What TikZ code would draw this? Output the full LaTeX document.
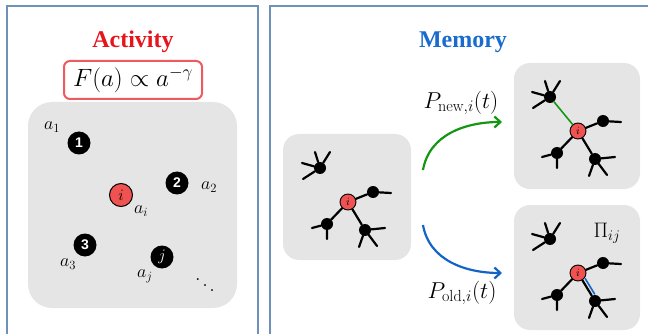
\RequirePackage{fix-cm}
\documentclass[tikz,border=0pt]{standalone}
\usepackage{fontspec}
\usetikzlibrary{arrows.meta}

\newfontfamily\titlefont{Liberation Serif}
\newfontfamily\numfont{Liberation Sans}

\definecolor{panelblue}{RGB}{110,145,185}
\definecolor{boxgray}{RGB}{230,229,230}
\definecolor{titlered}{RGB}{232,20,28}
\definecolor{lawred}{RGB}{238,90,95}
\definecolor{nodered}{RGB}{240,82,82}
\definecolor{titleblue}{RGB}{26,108,204}
\definecolor{newgreen}{RGB}{20,150,20}
\definecolor{oldblue}{RGB}{20,100,200}

\tikzset{
    panel/.style={draw=panelblue, line width=1.2pt},
    graybox/.style={fill=boxgray, rounded corners=16pt, inner sep=0pt},
    title/.style={font=\titlefont\bfseries\fontsize{24}{28}\selectfont},
    actnode/.style={circle, fill=black, text=white, minimum size=23pt, inner sep=0pt,
        font=\numfont\bfseries\fontsize{14}{14}\selectfont},
    actlabel/.style={font=\fontsize{18}{20}\selectfont},
    hub/.style={circle, fill=nodered, draw=black, line width=0.9pt, minimum size=16pt,
        inner sep=0pt, font=\fontsize{11}{11}\selectfont},
    dot/.style={circle, fill=black, minimum size=12pt, inner sep=0pt},
    link/.style={line width=2.2pt, line cap=round},
    move/.style={line width=2.2pt, -{Straight Barb[length=6pt, width=11pt]}},
    problabel/.style={font=\fontsize{23}{26}\selectfont}
}

\begin{document}
\begin{tikzpicture}[x=1pt, y=-1pt]
\useasboundingbox (0,0) rectangle (648,334);

% panels
\draw[panel] (7,340) -- (7,6) -- (258,6) -- (258,340);
\draw[panel] (270,340) -- (270,6) -- (660,6);

% activity
\node (activity) at (133,42) [title, text=titlered] {Activity};
\node (law) at (133,80) [draw=lawred, line width=2pt, rounded corners=6pt,
    minimum width=138pt, minimum height=38pt, inner sep=0pt,
    font=\fontsize{25}{28}\selectfont] {$F(a) \propto a^{-\gamma}$};
\node (actbox) at (132.5,205) [graybox, rounded corners=24pt,
    minimum width=209pt, minimum height=206pt] {};

\node (one) at (79,143) [actnode] {1};
\node (two) at (177,183) [actnode] {2};
\node (act i) at (121,195) [actnode, fill=nodered, draw=black, line width=1pt,
    text=black, font=\fontsize{16}{16}\selectfont] {$i$};
\node (three) at (85,245) [actnode] {3};
\node (act j) at (162,257) [actnode, font=\fontsize{16}{16}\selectfont] {$j$};

\node (a1) at (52,127) [actlabel] {$a_1$};
\node (a2) at (209,187) [actlabel] {$a_2$};
\node (ai) at (141,211) [actlabel] {$a_i$};
\node (a3) at (68,264) [actlabel] {$a_3$};
\node (aj) at (145,276) [actlabel] {$a_j$};
\node (more) at (205,280) [scale=1.8] {$\ddots$};

% memory
\node (memory) at (463,42) [title, text=titleblue] {Memory};
\node (oldbox) at (347,197) [graybox, minimum width=128pt, minimum height=126pt] {};
\node (newbox) at (577,126) [graybox, minimum width=126pt, minimum height=126pt] {};
\node (keepbox) at (577,267.5) [graybox, minimum width=126pt, minimum height=125pt] {};

\foreach \n/\dx/\dy in {L/0/0, N/230/-71, O/230/71} {%
    \begin{scope}[shift={(\dx,\dy)}]
        \node (\n i) at (348,202) [hub] {$i$};
        \node (\n a) at (320,168) [dot] {};
        \node (\n b) at (373,192) [dot] {};
        \node (\n c) at (327,224) [dot] {};
        \node (\n d) at (365,230) [dot] {};
        \draw[link]
            (\n a) -- ++(-18,-5)
            (\n a) -- ++(-17,11)
            (\n a) -- ++(-5,-16)
            (\n a) -- ++(10,-16)
            (\n b) -- ++(18,1)
            (\n c) -- ++(-15,4)
            (\n c) -- ++(0,15)
            (\n d) -- ++(20,-2)
            (\n d) -- ++(-6,17)
            (\n d) -- ++(12,16);
        \draw[link] (\n i) -- (\n b);
        \draw[link] (\n i) -- (\n c);
        \draw[link] (\n i) -- (\n d);
    \end{scope}
}

% new and repeated links
\draw[link, line width=1.6pt, draw=newgreen] (Na) -- (Ni);
\draw[link, line width=1.6pt, draw=oldblue, transform canvas={shift={(2.8pt,1.7pt)}}]
    (Oi) -- (Od);

\coordinate (newfrom) at (423,170);
\coordinate (newto) at (502,122);
\coordinate (oldfrom) at (423,225);
\coordinate (oldto) at (502,273);
\draw[move, draw=newgreen] (newfrom) to[out=80, in=180] (newto);
\draw[move, draw=oldblue] (oldfrom) to[out=-80, in=180] (oldto);

\node (pnew) at (461,103) [problabel] {$P_{\mathrm{new},i}(t)$};
\node (pold) at (462,293) [problabel] {$P_{\mathrm{old},i}(t)$};
\node (pij) at (607,233) [font=\fontsize{21}{24}\selectfont] {$\Pi_{ij}$};
\end{tikzpicture}
\end{document}
